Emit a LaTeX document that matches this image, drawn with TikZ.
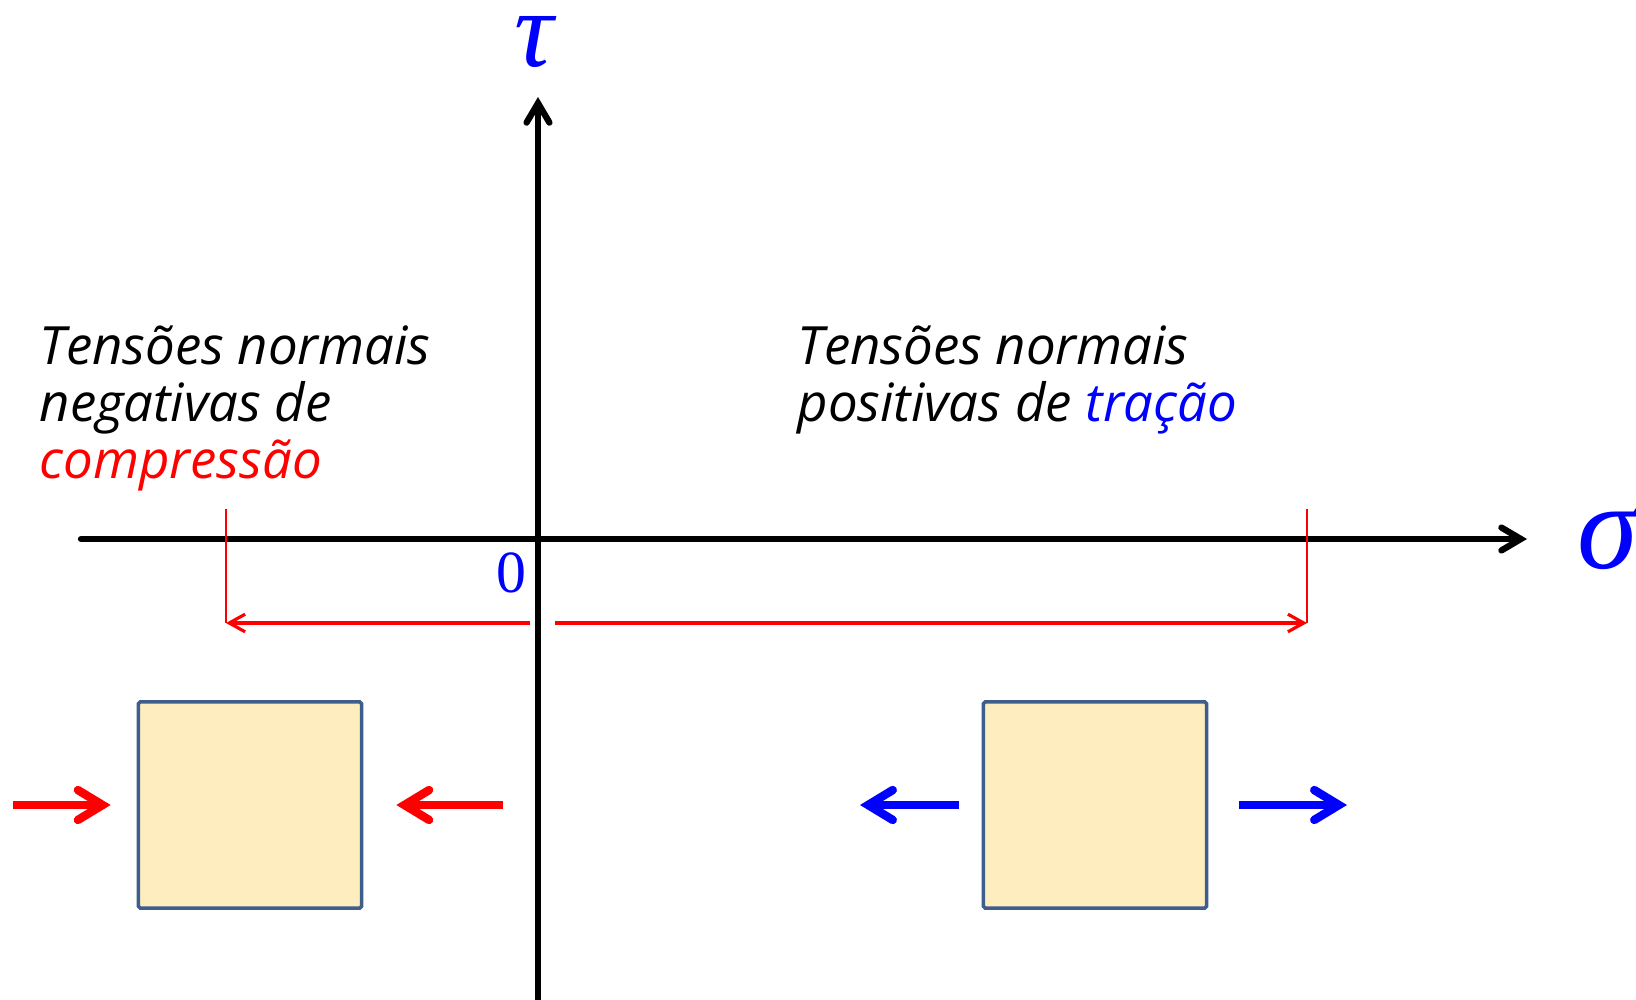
\documentclass[tikz,border=0pt]{standalone}
\usepackage{fontspec}
\usepackage{tikz}
\usetikzlibrary{arrows.meta,positioning,calc}
\newfontfamily\handfont{Open Sans}
\newfontfamily\timesfont{Liberation Serif}
\definecolor{sand}{HTML}{FDEDBF}
\definecolor{steel}{HTML}{3E5E8C}

\begin{document}
\begin{tikzpicture}[x=0.01cm,y=-0.01cm,
    axis/.style={line width=1.8pt,line cap=round,
      -{Straight Barb[length=5.5pt,width=6.5pt,line cap=round]}},
    dim/.style={red,line width=0.9pt,-{Straight Barb[length=4.5pt,width=5pt]}},
    tickline/.style={red,line width=0.4pt},
    push/.style={line width=2.4pt,-{Straight Barb[length=7pt,width=8.5pt,line cap=round]}},
    block/.style={draw=steel,fill=sand,line width=1pt,rounded corners=0.5pt,
      minimum width=2.23cm,minimum height=2.06cm,inner sep=0pt},
    note/.style={font=\fontsize{15}{16.2}\selectfont\handfont\itshape,
      align=left,inner sep=0pt,anchor=north west},
    greek/.style={blue,inner sep=0pt,font=\fontsize{35}{35}\selectfont\timesfont\itshape}]
  \useasboundingbox (0,0) rectangle (1636,1000);

  \coordinate (o) at (538,539);
  \coordinate (sx0) at (81,539);
  \coordinate (sx1) at (1527,539);
  \coordinate (ty0) at (538,1000);
  \coordinate (ty1) at (538,97);
  \draw[axis] (sx0) -- (sx1);
  \draw[axis] (ty0) -- (ty1);
  \node[greek] (sig) at (1608,537) {σ};
  \node[greek,font=\fontsize{31}{31}\selectfont\timesfont\itshape] (tau) at (534,42) {τ};
  \node[blue,font=\fontsize{17}{17}\selectfont\timesfont] (zero) at (511,573) {0};

  \coordinate (tl) at (226,509);
  \coordinate (tr) at (1307,509);
  \coordinate (dl) at (226,623);
  \coordinate (dr) at (1307,623);
  \coordinate (gl) at (530,623);
  \coordinate (gr) at (555,623);
  \draw[tickline] (tl) -- (dl);
  \draw[tickline] (tr) -- (dr);
  \draw[dim] (gl) -- (dl);
  \draw[dim] (gr) -- (dr);

  \node[note] (neg) at (39,325) {Tensões normais\\negativas de\\\textcolor{red}{compressão}};
  \node[note] (pos) at (797,325) {Tensões normais\\positivas de \textcolor{blue}{tração}};

  \node[block] (lbox) at (250,805) {};
  \node[block] (rbox) at (1095,805) {};
  \coordinate (la) at (13,805);
  \coordinate (ra) at (503,805);
  \coordinate (lb) at (860,805);
  \coordinate (rb) at (1347,805);
  \draw[push,red,shorten >=0.26cm] (la) -- (lbox);
  \draw[push,red,shorten >=0.33cm] (ra) -- (lbox);
  \draw[push,blue,shorten <=0.23cm] (rbox) -- (lb);
  \draw[push,blue,shorten <=0.31cm] (rbox) -- (rb);
\end{tikzpicture}
\end{document}
